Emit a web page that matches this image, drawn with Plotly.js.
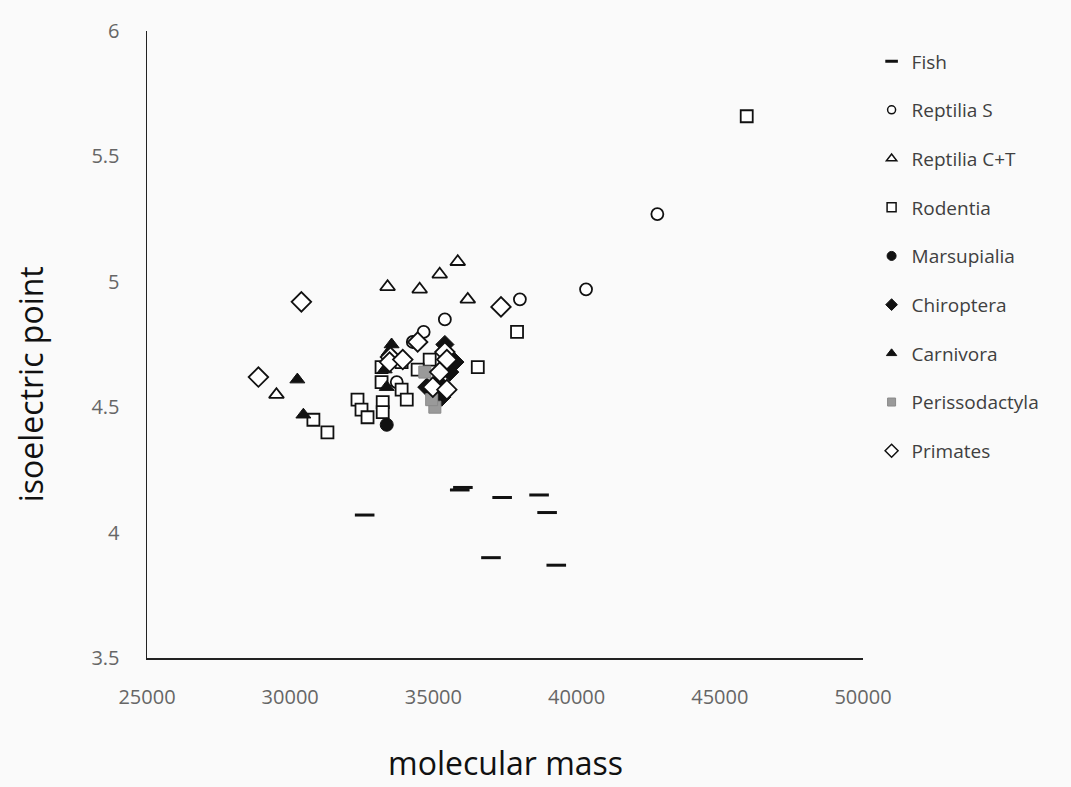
<!DOCTYPE html>
<html>
<head>
<meta charset="utf-8">
<script src="https://cdn.plot.ly/plotly-3.0.1.min.js"></script>
<style>html,body{margin:0;padding:0;background:#fafafa;}#chart{width:1071px;height:787px;}</style>
</head>
<body>
<div id="chart"></div>
<script>
// Fish
const fishX = [32600, 35920, 36030, 37400, 38690, 38970, 37010, 39290];
const fishY = [4.07, 4.17, 4.18, 4.14, 4.15, 4.08, 3.90, 3.87];
// Reptilia S
const reptSX = [42820, 40330, 38020, 35400, 34660, 34280, 33720];
const reptSY = [5.27, 4.97, 4.93, 4.85, 4.80, 4.76, 4.60];
// Reptilia C+T
const reptCTX = [29520, 33400, 34520, 35220, 35850, 36200];
const reptCTY = [4.55, 4.98, 4.97, 5.03, 5.08, 4.93];
// Rodentia
const rodX = [45940, 37920, 36550, 30810, 31300, 32350, 32490, 32700, 33190, 33190, 33230, 33230, 33890, 33890, 34070, 34870, 34450];
const rodY = [5.66, 4.80, 4.66, 4.45, 4.40, 4.53, 4.49, 4.46, 4.66, 4.60, 4.52, 4.48, 4.68, 4.57, 4.53, 4.69, 4.65];
// Marsupialia
const marsX = [33370];
const marsY = [4.43];
// Chiroptera
const chirX = [35400, 35750, 35570, 34770, 35290, 35150];
const chirY = [4.75, 4.68, 4.64, 4.58, 4.54, 4.60];
// Carnivora
const carnX = [30250, 30460, 33540, 33440, 33300, 33370];
const carnY = [4.61, 4.47, 4.75, 4.72, 4.65, 4.58];
// Perissodactyla
const periX = [34700, 35050, 34940];
const periY = [4.64, 4.50, 4.53];
// Primates
const primX = [30390, 28890, 37360, 34450, 33500, 35400, 35470, 35220, 34980, 35470, 33470, 33930];
const primY = [4.92, 4.62, 4.90, 4.76, 4.70, 4.72, 4.69, 4.64, 4.58, 4.57, 4.68, 4.69];

const names = ["Fish", "Reptilia S", "Reptilia C+T", "Rodentia", "Marsupialia", "Chiroptera", "Carnivora", "Perissodactyla", "Primates"];
const xs = [fishX, reptSX, reptCTX, rodX, marsX, chirX, carnX, periX, primX];
const ys = [fishY, reptSY, reptCTY, rodY, marsY, chirY, carnY, periY, primY];
const markers = [
  {symbol: "line-ew", size: 14, color: "#111", line: {color: "#111", width: 3}},
  {symbol: "circle", size: 12, color: "white", line: {color: "#111", width: 1.8}},
  {symbol: "triangle-up", size: 13, color: "white", line: {color: "#111", width: 1.8}},
  {symbol: "square", size: 12, color: "white", line: {color: "#111", width: 1.8}},
  {symbol: "circle", size: 13, color: "#111", line: {color: "#111", width: 1}},
  {symbol: "diamond", size: 14, color: "#111", line: {color: "#111", width: 1}},
  {symbol: "triangle-up", size: 13, color: "#111", line: {color: "#111", width: 1}},
  {symbol: "square", size: 12, color: "#9a9a9a", line: {color: "#8a8a8a", width: 1}},
  {symbol: "diamond", size: 15, color: "white", line: {color: "#111", width: 1.8}}
];
const legendSizes = [9, 8, 9, 9, 9, 9, 9, 8, 10];

const traces = names.map((n, i) => ({
  type: "scatter", mode: "markers", name: n, x: xs[i], y: ys[i],
  marker: markers[i], showlegend: false, cliponaxis: false
}));
const legendTraces = names.map((n, i) => ({
  type: "scatter", mode: "markers", name: n, x: [null], y: [null],
  marker: Object.assign({}, markers[i], {size: legendSizes[i],
    line: Object.assign({}, markers[i].line, {width: i === 0 ? 3 : Math.min(markers[i].line.width, 1.5)})}),
  legendgroup: "g" + i, showlegend: true
}));

const tickFont = {family: "Open Sans, sans-serif", size: 20, color: "#666"};
const titleFont = {family: "Open Sans, sans-serif", size: 32, color: "#111"};
const layout = {
  width: 1071, height: 787,
  paper_bgcolor: "#fafafa", plot_bgcolor: "#fafafa",
  margin: {l: 147, r: 208, t: 31, b: 129},
  font: {family: "Open Sans, sans-serif"},
  xaxis: {
    range: [25000, 50000], dtick: 5000, tick0: 25000, tickformat: "d",
    showgrid: false, zeroline: false, showline: true, linecolor: "#222", linewidth: 1.5,
    ticks: "", ticklabelstandoff: 20, tickfont: tickFont
  },
  yaxis: {
    range: [3.5, 6], dtick: 0.5, tick0: 3.5,
    showgrid: false, zeroline: false, showline: true, linecolor: "#222", linewidth: 1.5,
    ticks: "", ticklabelstandoff: 22, tickfont: tickFont
  },
  annotations: [
    {text: "molecular mass", xref: "paper", yref: "paper", x: 0.5, y: -0.167,
     xanchor: "center", yanchor: "middle", showarrow: false, font: titleFont},
    {text: "isoelectric point", xref: "paper", yref: "paper", x: -0.163, y: 0.437,
     xanchor: "center", yanchor: "middle", showarrow: false, textangle: -90, font: titleFont}
  ],
  legend: {
    x: 1.012, y: 0.982, xanchor: "left", yanchor: "top",
    font: {family: "Open Sans, sans-serif", size: 19, color: "#404040"},
    bgcolor: "rgba(0,0,0,0)", tracegroupgap: 21
  },
  showlegend: true
};

Plotly.newPlot("chart", traces.concat(legendTraces), layout, {staticPlot: true});
</script>
</body>
</html>
